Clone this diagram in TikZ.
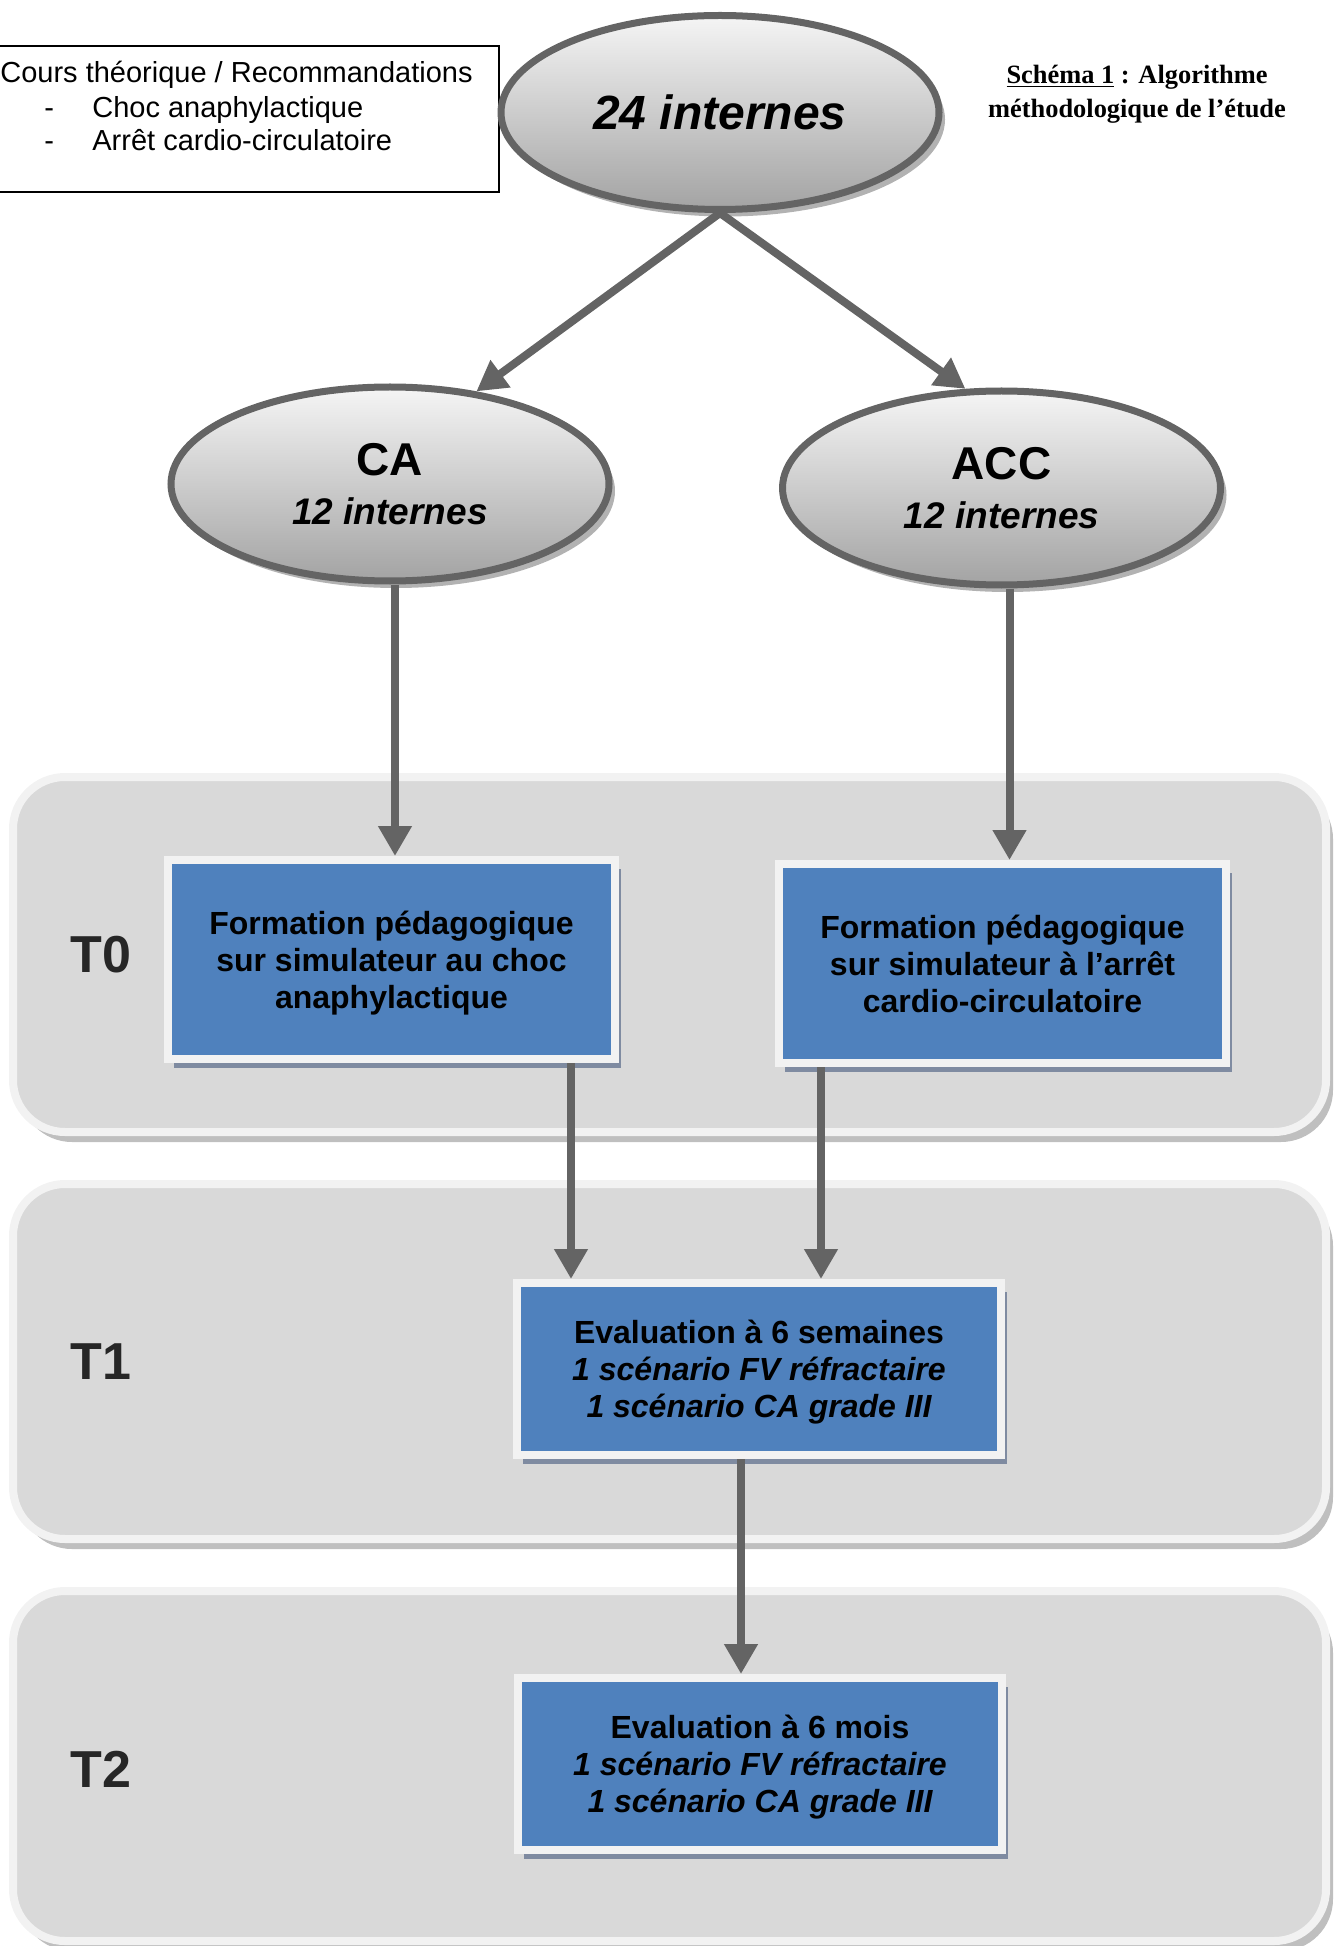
\documentclass[tikz,border=0pt]{standalone}
\usepackage{fontspec}
\setmainfont{Liberation Sans}
\newfontfamily\timesfont{Liberation Serif}
\usetikzlibrary{arrows.meta,shapes.geometric,shadows}

\definecolor{linegray}{HTML}{646464}
\definecolor{ovaltop}{HTML}{F5F5F5}
\definecolor{ovalbottom}{HTML}{A3A3A3}
\definecolor{boxblue}{HTML}{4F81BD}
\definecolor{rimwhite}{HTML}{F2F2F2}
\definecolor{boxshade}{HTML}{7F8BA1}
\definecolor{panelgray}{HTML}{D9D9D9}
\definecolor{panelshade}{HTML}{BFBFBF}
\definecolor{labelgray}{HTML}{262626}

\tikzset{
  oval/.style={ellipse, draw=linegray, line width=3.5pt, top color=ovaltop,
    bottom color=ovalbottom, minimum width=219pt, minimum height=97pt,
    inner sep=0pt, align=center,
    drop shadow={shadow xshift=3pt, shadow yshift=-3.5pt, fill=black!30, opacity=1}},
  formbox/.style={rectangle, draw=rimwhite, line width=4pt, fill=boxblue,
    minimum width=223.5pt, minimum height=99.5pt, inner sep=0pt, align=center,
    text depth=0pt, font=\bfseries\fontsize{16}{18.5}\selectfont,
    drop shadow={shadow xshift=3pt, shadow yshift=-4.5pt, fill=boxshade, opacity=1}},
  evalbox/.style={formbox, minimum width=242pt, minimum height=86pt},
  phase/.style={rectangle, rounded corners=26pt, draw=rimwhite, line width=4pt,
    fill=panelgray, minimum width=656.5pt, minimum height=177.5pt,
    drop shadow={shadow xshift=3.5pt, shadow yshift=-5pt, fill=panelshade, opacity=1}},
  phaselabel/.style={font=\bfseries\fontsize{26}{30}\selectfont, text=labelgray},
  flow/.style={draw=linegray, line width=4pt, -{Triangle[width=16pt,length=15pt]}},
  note/.style={anchor=base west, inner sep=0pt, font=\fontsize{14.5}{17}\selectfont}
}

\begin{document}
\begin{tikzpicture}[x=0.5pt, y=-0.5pt]
  \useasboundingbox (0,0) rectangle (1340,1946);

  % phases
  \node[phase] (t0) at (669.5,954.5) {};
  \node[phase] (t1) at (669.5,1361.5) {};
  \node[phase, minimum height=175pt] (t2) at (669.5,1766) {};
  \node[phaselabel] (lt0) at (101,955) {T0};
  \node[phaselabel] (lt1) at (101,1362) {T1};
  \node[phaselabel] (lt2) at (101,1769) {T2};

  % course box, top left
  \draw[line width=1pt] (0,46) -| (499,192) -- (0,192);
  \node[note] (cours) at (0,82.5) {Cours théorique / Recommandations};
  \node[note] (dashone) at (44,117.5) {-};
  \node[note] (choc) at (92,117.5) {Choc anaphylactique};
  \node[note] (dashtwo) at (44,151) {-};
  \node[note] (arret) at (92,151) {Arrêt cardio-circulatoire};

  \node[align=center, font=\timesfont\bfseries\fontsize{13.2}{17}\selectfont]
    (schema) at (1137,94) {\underline{Schéma 1} : Algorithme\\méthodologique de l’étude};

  % groups
  \node[oval, font=\bfseries\itshape\fontsize{24}{28}\selectfont] (internes) at (720,112.5) {24 internes};
  \node[oval, font=\bfseries\fontsize{23}{24.5}\selectfont] (ca) at (390,484)
    {CA\\{\itshape\fontsize{18.5}{24.5}\selectfont 12 internes}};
  \node[oval, font=\bfseries\fontsize{23}{24.5}\selectfont] (acc) at (1001.5,488)
    {ACC\\{\itshape\fontsize{18.5}{24.5}\selectfont 12 internes}};

  % trainings and evaluations
  \node[formbox] (formca) at (391.5,959.5)
    {Formation pédagogique\\sur simulateur au choc\\anaphylactique};
  \node[formbox] (formacc) at (1002.5,963.5)
    {Formation pédagogique\\sur simulateur à l’arrêt\\cardio-circulatoire};
  \node[evalbox] (evalsix) at (759,1369)
    {Evaluation à 6 semaines\\{\itshape 1 scénario FV réfractaire}\\{\itshape 1 scénario CA grade III}};
  \node[evalbox] (evalmois) at (760,1764)
    {Evaluation à 6 mois\\{\itshape 1 scénario FV réfractaire}\\{\itshape 1 scénario CA grade III}};

  % arrows
  \draw[flow] (internes.south) -- (ca.47);
  \draw[flow] (internes.south) -- (acc.110);
  \coordinate (downca) at ([xshift=2.5pt]ca.south);
  \coordinate (downacc) at ([xshift=4pt]acc.south);
  \draw[flow] (downca) -- (downca |- formca.north);
  \draw[flow] (downacc) -- (downacc |- formacc.north);
  \coordinate (outca) at ([xshift=-24pt]formca.south east);
  \coordinate (outacc) at ([xshift=23pt]formacc.south west);
  \coordinate (outsix) at ([xshift=-9pt]evalsix.south);
  \draw[flow] (outca) -- (outca |- evalsix.north);
  \draw[flow] (outacc) -- (outacc |- evalsix.north);
  \draw[flow] (outsix) -- (outsix |- evalmois.north);
\end{tikzpicture}
\end{document}
